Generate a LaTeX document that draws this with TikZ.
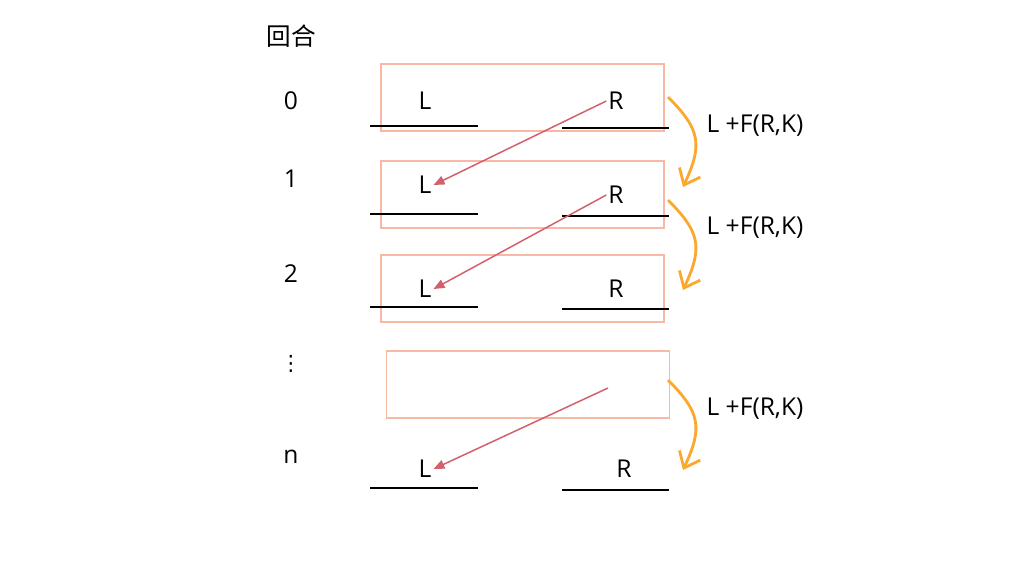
\documentclass[tikz,border=0pt]{standalone}
\usepackage{fontspec}
\setmainfont{Open Sans}
\newfontfamily\cjkfont{Noto Sans CJK SC}
\newfontfamily\symfont{DejaVu Sans}
\usetikzlibrary{arrows.meta,positioning}
\definecolor{boxline}{HTML}{F8B8A6}
\definecolor{swap}{HTML}{D3606C}
\definecolor{roundfn}{HTML}{FBA82E}
\begin{document}
\begin{tikzpicture}[
  x=0.02cm, y=0.02cm,
  font=\fontsize{14}{16}\selectfont,
  txt/.style={inner sep=1pt},
  rbox/.style={draw=boxline, line width=1.1pt, minimum width=5.66cm, minimum height=1.34cm, inner sep=0pt},
  blank/.style={line width=1.1pt, draw=black},
  swaparr/.style={-{Triangle[length=2.2mm, width=1.8mm]}, line width=0.85pt, draw=swap},
  fnarr/.style={-{Straight Barb[length=2.8mm, width=4.6mm]}, line width=1.6pt, draw=roundfn},
  fnbend/.style={out=-45, in=65, looseness=1.3},
]
\useasboundingbox (0,0) rectangle (1024,-576);

% round numbers
\node[txt] (head) at (291,-36) {\cjkfont 回合};
\node[txt] (n0) at (291,-101) {0};
\node[txt] (n1) at (291,-179) {1};
\node[txt] (n2) at (291,-274) {2};
\node[txt] (nd) at (291,-364) {\symfont\fontsize{12}{14}\selectfont ⋮};
\node[txt] (nn) at (291,-457) {n};

% boxes around each round
\node[rbox] (b0) at (522.5,-97.5) {};
\node[rbox] (b1) at (522.5,-194.5) {};
\node[rbox] (b2) at (522.5,-288.5) {};
\node[rbox] (b3) at (528,-384.5) {};

% halves L and R
\node[txt] (l0) at (425,-101) {L};
\node[txt] (r0) at (616,-101) {R};
\node[txt] (l1) at (425,-185) {L};
\node[txt] (r1) at (616,-195) {R};
\node[txt] (l2) at (425,-289) {L};
\node[txt] (r2) at (616,-289) {R};
\node[txt] (ln) at (425,-469) {L};
\node[txt] (rn) at (624,-469) {R};
\coordinate (r3) at (608,-388);

% blanks under the halves
\foreach \a/\b in {126/128, 214/216, 307/309, 488/490} {
  \draw[blank] (370,-\a) -- (478,-\a);
  \draw[blank] (562,-\b) -- (669,-\b);
}

% R becomes the next L
\foreach \u/\v in {r0/l1, r1/l2} \draw[swaparr] (\u.west) -- (\v.east);
\draw[swaparr] (r3) -- (ln.east);

% L + F(R,K) becomes the next R
\coordinate (e1) at (683,-187);
\coordinate (e2) at (683,-290);
\coordinate (en) at (683,-470);
\draw[fnarr] (668,-97) coordinate (s0) to[fnbend] (e1);
\draw[fnarr] (668,-200) coordinate (s1) to[fnbend] (e2);
\draw[fnarr] (668,-380) coordinate (s3) to[fnbend] (en);
\node[txt] (f0) at (755,-126) {L +F(R,K)};
\node[txt] (f1) at (755,-228) {L +F(R,K)};
\node[txt] (f3) at (755,-409) {L +F(R,K)};
\end{tikzpicture}
\end{document}
